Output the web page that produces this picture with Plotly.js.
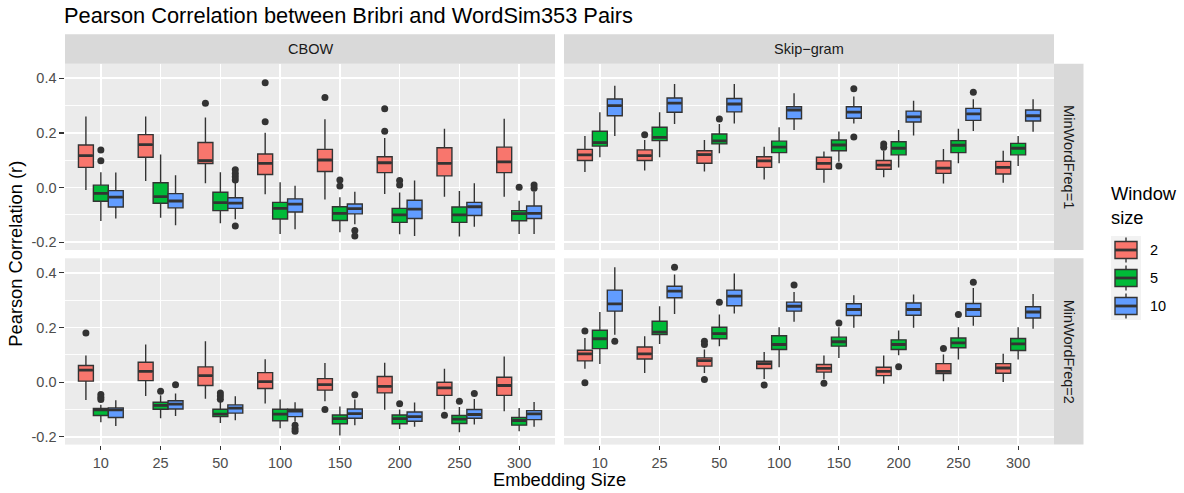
<!DOCTYPE html>
<html><head><meta charset="utf-8">
<script src="https://cdn.plot.ly/plotly-3.0.1.min.js"></script>
<style>html,body{margin:0;padding:0;background:#fff}#chart{width:1184px;height:493px}</style>
</head><body><div id="chart"></div><script>
// ---------------- DATA ----------------
const categories = ['10','25','50','100','150','200','250','300'];
const windowSizes = ['2','5','10'];
const windowColors = ['#F8766D','#00BA38','#619CFF'];
const yTickVals = [-0.2, 0.0, 0.2, 0.4];
const yTickText = ['-0.2', '0.0', '0.2', '0.4'];
const yMinorVals = [-0.1, 0.1, 0.3];

// [lower whisker, q1, median, q3, upper whisker] per embedding size
const cbow_f1_w2 = [[-0.009,0.074,0.117,0.156,0.26],[0.024,0.111,0.157,0.194,0.26],[0.016,0.088,0.099,0.165,0.257],[-0.024,0.048,0.089,0.123,0.201],[-0.043,0.059,0.101,0.14,0.25],[-0.023,0.055,0.091,0.113,0.182],[-0.033,0.043,0.089,0.146,0.215],[-0.033,0.055,0.094,0.148,0.252]];
const cbow_f1_w5 = [[-0.122,-0.05,-0.021,0.009,0.056],[-0.11,-0.057,-0.033,0.018,0.121],[-0.13,-0.084,-0.055,-0.017,0.056],[-0.17,-0.115,-0.076,-0.054,0.02],[-0.163,-0.12,-0.094,-0.07,-0.035],[-0.171,-0.127,-0.1,-0.076,-0.018],[-0.179,-0.127,-0.1,-0.071,-0.012],[-0.17,-0.121,-0.095,-0.084,-0.048]];
const cbow_f1_w10 = [[-0.113,-0.071,-0.035,-0.011,0.055],[-0.138,-0.074,-0.049,-0.022,0.045],[-0.116,-0.076,-0.057,-0.037,0.022],[-0.152,-0.089,-0.06,-0.041,0.007],[-0.134,-0.096,-0.077,-0.06,-0.015],[-0.177,-0.113,-0.079,-0.046,0.026],[-0.143,-0.102,-0.07,-0.054,0.016],[-0.17,-0.113,-0.094,-0.067,-0.015]];
const skip_f1_w2 = [[0.057,0.099,0.12,0.14,0.189],[0.063,0.099,0.117,0.138,0.174],[0.059,0.089,0.121,0.135,0.174],[0.03,0.074,0.098,0.113,0.15],[0.018,0.067,0.089,0.111,0.132],[0.038,0.067,0.082,0.099,0.135],[0.015,0.052,0.071,0.098,0.141],[0.018,0.05,0.074,0.096,0.135]];
const skip_f1_w5 = [[0.111,0.152,0.165,0.206,0.276],[0.111,0.172,0.184,0.221,0.276],[0.126,0.16,0.171,0.196,0.233],[0.089,0.128,0.148,0.17,0.221],[0.095,0.135,0.156,0.174,0.205],[0.074,0.12,0.144,0.168,0.211],[0.089,0.128,0.155,0.172,0.215],[0.079,0.12,0.144,0.162,0.189]];
const skip_f1_w10 = [[0.189,0.263,0.3,0.324,0.373],[0.233,0.276,0.309,0.328,0.379],[0.235,0.277,0.306,0.326,0.379],[0.211,0.252,0.284,0.296,0.345],[0.235,0.254,0.276,0.296,0.333],[0.191,0.24,0.259,0.28,0.318],[0.207,0.246,0.27,0.29,0.323],[0.204,0.244,0.263,0.284,0.323]];
const cbow_f2_w2 = [[-0.065,0.004,0.044,0.061,0.098],[-0.05,0.006,0.04,0.073,0.138],[-0.06,-0.012,0.024,0.056,0.15],[-0.078,-0.023,0.002,0.035,0.084],[-0.07,-0.029,-0.009,0.013,0.07],[-0.101,-0.039,-0.015,0.021,0.071],[-0.1,-0.048,-0.021,0.0,0.049],[-0.106,-0.048,-0.012,0.018,0.094]];
const cbow_f2_w5 = [[-0.146,-0.122,-0.101,-0.096,-0.082],[-0.132,-0.099,-0.085,-0.073,-0.048],[-0.149,-0.126,-0.117,-0.099,-0.07],[-0.168,-0.141,-0.117,-0.099,-0.063],[-0.195,-0.152,-0.133,-0.12,-0.089],[-0.171,-0.152,-0.133,-0.12,-0.1],[-0.183,-0.151,-0.135,-0.122,-0.091],[-0.179,-0.157,-0.14,-0.129,-0.094]];
const cbow_f2_w10 = [[-0.16,-0.129,-0.101,-0.094,-0.066],[-0.124,-0.098,-0.08,-0.068,-0.041],[-0.139,-0.113,-0.095,-0.083,-0.051],[-0.145,-0.126,-0.106,-0.099,-0.073],[-0.157,-0.132,-0.115,-0.098,-0.063],[-0.163,-0.143,-0.126,-0.109,-0.074],[-0.155,-0.132,-0.118,-0.1,-0.061],[-0.163,-0.137,-0.116,-0.104,-0.072]];
const skip_f2_w2 = [[0.049,0.078,0.104,0.117,0.162],[0.034,0.085,0.104,0.129,0.168],[0.034,0.059,0.079,0.089,0.12],[0.012,0.05,0.068,0.077,0.111],[0.011,0.037,0.051,0.065,0.098],[-0.006,0.024,0.04,0.055,0.098],[0.004,0.032,0.04,0.068,0.101],[0.001,0.033,0.052,0.068,0.104]];
const skip_f2_w5 = [[0.067,0.123,0.159,0.19,0.257],[0.14,0.174,0.183,0.223,0.278],[0.132,0.159,0.178,0.201,0.248],[0.055,0.12,0.138,0.17,0.201],[0.089,0.132,0.148,0.165,0.201],[0.099,0.12,0.138,0.155,0.189],[0.083,0.126,0.144,0.162,0.201],[0.083,0.116,0.14,0.16,0.201]];
const skip_f2_w10 = [[0.174,0.26,0.287,0.337,0.421],[0.25,0.309,0.333,0.351,0.394],[0.251,0.28,0.315,0.337,0.398],[0.221,0.26,0.278,0.293,0.33],[0.199,0.244,0.266,0.287,0.318],[0.199,0.245,0.266,0.29,0.321],[0.207,0.241,0.266,0.288,0.345],[0.196,0.235,0.257,0.276,0.323]];

// outliers: [embedding size, value]
const cbow_f1_w2_out = [['50',0.309],['100',0.384],['100',0.241],['150',0.33],['200',0.289],['200',0.206]];
const cbow_f1_w5_out = [['10',0.138],['10',0.098],['150',0.028],['150',0.006],['200',0.026],['200',0.01],['300',0.001]];
const cbow_f1_w10_out = [['50',0.065],['50',0.052],['50',0.04],['50',0.028],['50',-0.14],['150',-0.157],['150',-0.177],['300',0.01],['300',-0.002]];
const skip_f1_w2_out = [['25',0.193],['200',0.16],['200',0.148]];
const skip_f1_w5_out = [['50',0.251],['150',0.079]];
const skip_f1_w10_out = [['150',0.362],['150',0.185],['250',0.349]];
const cbow_f2_w2_out = [['10',0.18],['150',-0.1],['250',-0.121]];
const cbow_f2_w5_out = [['10',-0.045],['10',-0.055],['10',-0.063],['25',-0.033],['50',-0.039],['50',-0.05],['50',-0.062],['200',-0.079],['250',-0.07]];
const cbow_f2_w10_out = [['25',-0.009],['100',-0.157],['100',-0.17],['100',-0.179],['150',-0.046],['250',-0.041]];
const skip_f2_w2_out = [['10',0.187],['10',-0.002],['50',0.15],['50',0.138],['50',0.01],['100',-0.01],['150',-0.004],['250',0.123]];
const skip_f2_w5_out = [['50',0.293],['150',0.217],['200',0.057],['250',0.248]];
const skip_f2_w10_out = [['10',0.15],['25',0.421],['100',0.356],['250',0.366]];

const modelLabels = ['CBOW', 'Skip\u2212gram'];
const freqLabels = ['MinWordFreq=1', 'MinWordFreq=2'];

// ---------------- LAYOUT HELPERS ----------------
const W = 1184, H = 493;
const px = v => v / W;
const py = v => 1 - v / H;
const colX = [[65, 555], [564, 1054]];
const rowY = [[63.7, 250], [258.3, 444.6]];
const stripTop = [34.3, 63.7];
const stripRight = [1054, 1083.5];
const FONT = 'Liberation Sans, Arial, Helvetica, sans-serif';
const BOXW = 0.25;

const panels = [
  {stats:[cbow_f1_w2,cbow_f1_w5,cbow_f1_w10], outs:[cbow_f1_w2_out,cbow_f1_w5_out,cbow_f1_w10_out], col:0, row:0, ax:'3'},
  {stats:[skip_f1_w2,skip_f1_w5,skip_f1_w10], outs:[skip_f1_w2_out,skip_f1_w5_out,skip_f1_w10_out], col:1, row:0, ax:'4'},
  {stats:[cbow_f2_w2,cbow_f2_w5,cbow_f2_w10], outs:[cbow_f2_w2_out,cbow_f2_w5_out,cbow_f2_w10_out], col:0, row:1, ax:''},
  {stats:[skip_f2_w2,skip_f2_w5,skip_f2_w10], outs:[skip_f2_w2_out,skip_f2_w5_out,skip_f2_w10_out], col:1, row:1, ax:'2'}
];

const traces = [];
const medTraces = [];
const outTraces = [];
panels.forEach(p => {
  p.stats.forEach((st, j) => {
    const off = (j - 1) * BOXW;
    const xs = categories.map((c, i) => i + 1 + off);
    traces.push({
      type: 'box', xaxis: 'x' + p.ax, yaxis: 'y' + p.ax,
      x: xs,
      lowerfence: st.map(s => s[0]), q1: st.map(s => s[1]), median: st.map(s => s[2]),
      q3: st.map(s => s[3]), upperfence: st.map(s => s[4]),
      width: BOXW, whiskerwidth: 0, boxpoints: false,
      fillcolor: windowColors[j], line: {color: '#333333', width: 1.4},
      hoverinfo: 'skip', showlegend: false, name: windowSizes[j]
    });
    const mx = [], my = [];
    st.forEach((s, i) => { mx.push(xs[i] - BOXW / 2 + 0.01, xs[i] + BOXW / 2 - 0.01, null); my.push(s[2], s[2], null); });
    medTraces.push({type: 'scatter', mode: 'lines', xaxis: 'x' + p.ax, yaxis: 'y' + p.ax, x: mx, y: my,
      line: {color: '#333333', width: 2.8}, hoverinfo: 'skip', showlegend: false});
    const o = p.outs[j];
    outTraces.push({type: 'scatter', mode: 'markers', xaxis: 'x' + p.ax, yaxis: 'y' + p.ax,
      x: o.map(d => categories.indexOf(d[0]) + 1 + off), y: o.map(d => d[1]),
      marker: {color: '#333333', size: 7, line: {width: 0}}, hoverinfo: 'skip', showlegend: false});
  });
});

const layout = {
  width: W, height: H, margin: {l: 0, r: 0, t: 0, b: 0},
  paper_bgcolor: '#FFFFFF', plot_bgcolor: '#EBEBEB',
  boxmode: 'overlay', showlegend: false,
  font: {family: FONT, color: '#000'},
  shapes: [], annotations: []
};

panels.forEach(p => {
  const bottom = p.row === 1, left = p.col === 0;
  layout['xaxis' + p.ax] = {
    domain: [px(colX[p.col][0]), px(colX[p.col][1])], anchor: 'y' + p.ax,
    range: [0.4, 8.6], tickmode: 'array', tickvals: categories.map((c, i) => i + 1), ticktext: categories,
    showgrid: true, gridcolor: '#FFFFFF', gridwidth: 1.7, zeroline: false, showline: false,
    ticks: bottom ? 'outside' : '', ticklen: 4.6, tickwidth: 1.1, tickcolor: '#333333',
    showticklabels: bottom, tickfont: {family: FONT, size: 14.5, color: '#4D4D4D'}, fixedrange: true
  };
  layout['yaxis' + p.ax] = {
    domain: [py(rowY[p.row][1]), py(rowY[p.row][0])], anchor: 'x' + p.ax,
    range: [-0.2282, 0.4534], tickmode: 'array', tickvals: yTickVals, ticktext: yTickText,
    showgrid: true, gridcolor: '#FFFFFF', gridwidth: 1.7, zeroline: false, showline: false,
    minor: {tickmode: 'array', tickvals: yMinorVals, showgrid: true, gridcolor: '#FFFFFF', gridwidth: 0.9, ticks: ''},
    ticks: left ? 'outside' : '', ticklen: 4.6, tickwidth: 1.1, tickcolor: '#333333',
    showticklabels: left, tickfont: {family: FONT, size: 14.5, color: '#4D4D4D'}, fixedrange: true
  };
});

// strips
colX.forEach((c, i) => {
  layout.shapes.push({type: 'rect', xref: 'paper', yref: 'paper', x0: px(c[0]), x1: px(c[1]), y0: py(stripTop[1]), y1: py(stripTop[0]),
    fillcolor: '#D9D9D9', line: {width: 0}, layer: 'below'});
  layout.annotations.push({xref: 'paper', yref: 'paper', x: px((c[0] + c[1]) / 2), y: py((stripTop[0] + stripTop[1]) / 2),
    text: modelLabels[i], showarrow: false, xanchor: 'center', yanchor: 'middle', font: {size: 14.5, color: '#1A1A1A'}});
});
rowY.forEach((r, i) => {
  layout.shapes.push({type: 'rect', xref: 'paper', yref: 'paper', x0: px(stripRight[0]), x1: px(stripRight[1]), y0: py(r[1]), y1: py(r[0]),
    fillcolor: '#D9D9D9', line: {width: 0}, layer: 'below'});
  layout.annotations.push({xref: 'paper', yref: 'paper', x: px((stripRight[0] + stripRight[1]) / 2), y: py((r[0] + r[1]) / 2),
    text: freqLabels[i], textangle: 90, showarrow: false, xanchor: 'center', yanchor: 'middle', font: {size: 14.5, color: '#1A1A1A'}});
});

// titles
layout.annotations.push({xref: 'paper', yref: 'paper', x: px(61.5), y: py(15), xanchor: 'left', yanchor: 'middle', showarrow: false,
  text: 'Pearson Correlation between Bribri and WordSim353 Pairs', font: {size: 21.8, color: '#000'}});
layout.annotations.push({xref: 'paper', yref: 'paper', x: px((colX[0][0] + colX[1][1]) / 2), y: py(479.5), xanchor: 'center', yanchor: 'middle', showarrow: false,
  text: 'Embedding Size', font: {size: 18.3, color: '#000'}});
layout.annotations.push({xref: 'paper', yref: 'paper', x: px(15.5), y: py((rowY[0][0] + rowY[1][1]) / 2), xanchor: 'center', yanchor: 'middle', showarrow: false,
  textangle: -90, text: 'Pearson Correlation (r)', font: {size: 18.3, color: '#000'}});

// legend (custom, ggplot style)
const legX = [1111, 1141], keyH = 28, key0 = 236;
layout.annotations.push({xref: 'paper', yref: 'paper', x: px(1109), y: py(205), xanchor: 'left', yanchor: 'middle', align: 'left', showarrow: false,
  text: 'Window<br>size', font: {size: 18.3, color: '#000'}});
layout.shapes.push({type: 'rect', xref: 'paper', yref: 'paper', x0: px(legX[0]), x1: px(legX[1]), y0: py(key0 + keyH * 3), y1: py(key0),
  fillcolor: '#F2F2F2', line: {width: 0}});
windowSizes.forEach((w, j) => {
  const cy = key0 + keyH * j + keyH / 2, cx = (legX[0] + legX[1]) / 2;
  layout.shapes.push({type: 'line', xref: 'paper', yref: 'paper', x0: px(cx), x1: px(cx), y0: py(cy - 12.5), y1: py(cy + 12.5), line: {color: '#333333', width: 1.4}});
  layout.shapes.push({type: 'rect', xref: 'paper', yref: 'paper', x0: px(legX[0] + 4), x1: px(legX[1] - 4), y0: py(cy + 8.5), y1: py(cy - 8.5),
    fillcolor: windowColors[j], line: {color: '#333333', width: 1.4}});
  layout.shapes.push({type: 'line', xref: 'paper', yref: 'paper', x0: px(legX[0] + 4), x1: px(legX[1] - 4), y0: py(cy), y1: py(cy), line: {color: '#333333', width: 2.8}});
  layout.annotations.push({xref: 'paper', yref: 'paper', x: px(1148), y: py(cy), xanchor: 'left', yanchor: 'middle', showarrow: false,
    text: w, font: {size: 14.5, color: '#000'}});
});

Plotly.newPlot('chart', traces.concat(medTraces, outTraces), layout, {displayModeBar: false, staticPlot: true});
</script></body></html>
